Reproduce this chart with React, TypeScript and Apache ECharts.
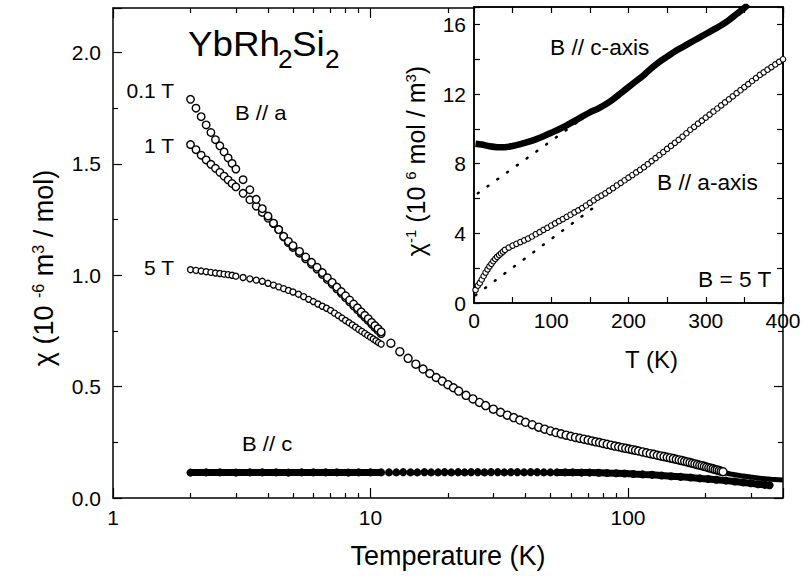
import React, { useEffect, useRef } from "react";
import * as echarts from "echarts";

const FONT = '"Liberation Sans", Arial, Helvetica, sans-serif';

// ---------- main plot: chi(T), B // a ----------
const tempLowA = [2.0, 2.1, 2.2, 2.3, 2.4, 2.5, 2.6, 2.7, 2.8, 2.9, 3.0, 3.2, 3.4, 3.6, 3.8, 4.0, 4.2, 4.4, 4.6, 4.8, 5.0, 5.3, 5.6, 5.9, 6.2, 6.5, 6.8, 7.1, 7.4, 7.7, 8.0, 8.3, 8.6, 8.9, 9.2, 9.5, 9.8, 10.1, 10.4, 10.7, 11.0];
const chi01T = [1.79, 1.75, 1.712, 1.675, 1.641, 1.609, 1.581, 1.554, 1.527, 1.502, 1.477, 1.429, 1.384, 1.341, 1.299, 1.266, 1.234, 1.205, 1.175, 1.152, 1.133, 1.107, 1.082, 1.058, 1.036, 1.012, 0.989, 0.968, 0.947, 0.927, 0.908, 0.889, 0.871, 0.854, 0.836, 0.82, 0.805, 0.789, 0.774, 0.76, 0.746];
const chi1T = [1.587, 1.564, 1.539, 1.518, 1.498, 1.48, 1.462, 1.445, 1.428, 1.412, 1.397, 1.368, 1.339, 1.31, 1.282, 1.256, 1.232, 1.205, 1.172, 1.146, 1.125, 1.099, 1.074, 1.05, 1.028, 1.004, 0.981, 0.96, 0.939, 0.919, 0.9, 0.881, 0.863, 0.846, 0.828, 0.812, 0.797, 0.781, 0.766, 0.752, 0.738];
const temp5T = [2.0, 2.1, 2.2, 2.3, 2.4, 2.5, 2.6, 2.7, 2.8, 2.9, 3.0, 3.2, 3.4, 3.6, 3.8, 4.0, 4.2, 4.4, 4.6, 4.8, 5.0, 5.25, 5.5, 5.75, 6.0, 6.25, 6.5, 6.75, 7.0, 7.25, 7.5, 7.75, 8.0, 8.25, 8.5, 8.75, 9.0, 9.25, 9.5, 9.75, 10.0, 10.25, 10.5, 10.75, 11.0];
const chi5T = [1.025, 1.022, 1.019, 1.016, 1.013, 1.01, 1.008, 1.005, 1.003, 1.0, 0.996, 0.99, 0.984, 0.978, 0.973, 0.964, 0.956, 0.948, 0.94, 0.932, 0.925, 0.915, 0.904, 0.892, 0.882, 0.871, 0.861, 0.852, 0.842, 0.83, 0.819, 0.808, 0.797, 0.787, 0.777, 0.767, 0.757, 0.748, 0.739, 0.73, 0.722, 0.714, 0.706, 0.698, 0.691];
const tempHigh = [12, 13, 14, 15, 16, 17, 18, 19, 20, 21, 22, 23.5, 25, 26.5, 28, 30, 32, 34, 36, 38, 40, 42.5, 45, 47.5, 50, 52.5, 55, 57.5, 60, 62.5, 65, 67.5, 70, 72.5, 75, 77.5, 80, 83, 86, 89, 92, 95, 98, 101, 104, 107, 110, 114, 118, 122, 126, 130, 134, 138, 142, 146, 150, 154, 158, 162, 166, 170, 174, 178, 182, 186, 190, 194, 198, 202, 206, 210, 214, 218, 222, 226, 230, 234];
const chiHigh = [0.695, 0.657, 0.627, 0.601, 0.579, 0.559, 0.541, 0.525, 0.509, 0.495, 0.48, 0.461, 0.445, 0.429, 0.415, 0.399, 0.385, 0.372, 0.361, 0.35, 0.34, 0.329, 0.318, 0.309, 0.301, 0.294, 0.288, 0.282, 0.277, 0.272, 0.268, 0.264, 0.26, 0.256, 0.252, 0.249, 0.245, 0.241, 0.237, 0.233, 0.23, 0.226, 0.223, 0.22, 0.217, 0.214, 0.211, 0.207, 0.203, 0.199, 0.196, 0.192, 0.189, 0.186, 0.183, 0.18, 0.177, 0.174, 0.171, 0.168, 0.165, 0.162, 0.159, 0.156, 0.153, 0.15, 0.147, 0.145, 0.142, 0.139, 0.136, 0.134, 0.131, 0.128, 0.126, 0.123, 0.12, 0.118];
const tempBandA = [130, 150, 175, 200, 225, 250, 275, 300, 330, 360, 400];
const chiBandA = [0.185, 0.168, 0.15, 0.134, 0.12, 0.108, 0.1, 0.094, 0.088, 0.084, 0.081];

// ---------- main plot: chi(T), B // c ----------
const tempCLow = [2.0, 2.3, 2.6, 3.0, 3.4, 3.8, 4.3, 4.8, 5.4, 6.0, 6.7, 7.4, 8.2, 9.0, 10.0, 11.0];
const chiCLow = [0.114, 0.115, 0.115, 0.114, 0.115, 0.115, 0.115, 0.114, 0.115, 0.115, 0.115, 0.115, 0.114, 0.115, 0.115, 0.115];
const tempCMid = [11.8, 12.6, 13.4, 14.3, 15.2, 16.2, 17.2, 18.3, 19.4, 20.6, 21.9, 23.2, 24.6, 26.1, 27.7, 29.4, 31.2, 33.1, 35.1, 37.2, 39.5, 41.9, 44.4, 47.1, 50.0];
const chiCMid = [0.115, 0.115, 0.116, 0.115, 0.115, 0.116, 0.115, 0.115, 0.116, 0.115, 0.116, 0.115, 0.116, 0.116, 0.115, 0.116, 0.116, 0.115, 0.116, 0.116, 0.115, 0.116, 0.116, 0.115, 0.115];
const tempCHigh = [53, 57, 61, 66, 71, 77, 83, 90, 97, 105, 114, 124, 135, 147, 160, 175, 190, 205, 220, 240, 260, 280, 300, 320, 340, 355];
const chiCHigh = [0.115, 0.115, 0.115, 0.114, 0.114, 0.113, 0.112, 0.111, 0.11, 0.108, 0.106, 0.104, 0.101, 0.098, 0.095, 0.092, 0.088, 0.085, 0.082, 0.078, 0.074, 0.07, 0.066, 0.062, 0.059, 0.057];

// ---------- inset: 1/chi(T), B = 5 T ----------
const insetTempC = [2, 10, 20, 30, 40, 50, 60, 70, 80, 90, 100, 110, 120, 130, 140, 150, 160, 170, 180, 190, 200, 210, 220, 230, 240, 250, 260, 270, 280, 290, 300, 310, 320, 330, 340, 350, 355];
const invChiC = [9.15, 9.1, 9.0, 8.95, 8.95, 9.02, 9.12, 9.25, 9.4, 9.58, 9.78, 9.98, 10.2, 10.45, 10.7, 10.95, 11.15, 11.4, 11.7, 12.05, 12.4, 12.75, 13.1, 13.5, 13.85, 14.15, 14.45, 14.7, 14.95, 15.2, 15.45, 15.7, 15.95, 16.25, 16.6, 16.95, 17.15];
const insetTempA = [2, 5, 7.5, 10, 12.5, 15, 17.5, 20, 22.5, 25, 27.5, 30, 32.5, 35, 37.5, 40, 45, 50, 55, 60, 65, 70, 75, 80, 85, 90, 95, 100, 105, 110, 115, 120, 125, 130, 135, 140, 145, 150, 155, 160, 165, 170, 175, 180, 185, 190, 195, 200, 205, 210, 215, 220, 225, 230, 235, 240, 245, 250, 255, 260, 265, 270, 275, 280, 285, 290, 295, 300, 305, 310, 315, 320, 325, 330, 335, 340, 345, 350, 355, 360, 365, 370, 375, 380, 385, 390, 395, 400];
const invChiA = [0.75, 1.0, 1.15, 1.35, 1.55, 1.75, 1.93, 2.1, 2.25, 2.4, 2.53, 2.65, 2.75, 2.85, 2.95, 3.05, 3.18, 3.3, 3.4, 3.5, 3.6, 3.7, 3.82, 3.95, 4.07, 4.2, 4.32, 4.45, 4.57, 4.7, 4.82, 4.95, 5.07, 5.2, 5.32, 5.45, 5.6, 5.75, 5.9, 6.05, 6.17, 6.3, 6.45, 6.6, 6.75, 6.9, 7.05, 7.2, 7.35, 7.5, 7.65, 7.8, 7.97, 8.15, 8.32, 8.5, 8.67, 8.85, 9.02, 9.2, 9.37, 9.55, 9.75, 9.95, 10.12, 10.3, 10.47, 10.65, 10.82, 11.0, 11.17, 11.35, 11.52, 11.7, 11.87, 12.05, 12.22, 12.4, 12.57, 12.75, 12.92, 13.1, 13.25, 13.4, 13.55, 13.7, 13.85, 14.0];
const fitTempC = [5, 150];
const fitC = [6.3, 10.9];
const fitTempA = [2, 163];
const fitA = [0.45, 5.75];

const pairs = (xs: number[], ys: number[]) => xs.map((x, i) => [x, ys[i]]);

const BLACK = "#000";
const ls = { color: BLACK, width: 1.5 };
const tickLs = { color: BLACK, width: 1.2 };

const openCircle = (size: number, bw = 1.4) => ({
  symbol: "circle",
  symbolSize: size,
  itemStyle: { color: "#fff", borderColor: BLACK, borderWidth: bw, opacity: 1 },
});

const txt = (text: string, x: number, y: number, size: number, align = "left", sx = 1) => ({
  type: "text",
  x,
  y,
  scaleX: sx,
  z: 100,
  silent: true,
  style: {
    text,
    fill: BLACK,
    font: `${size}px ${FONT}`,
    align,
    verticalAlign: "middle",
    textAlign: align,
    textVerticalAlign: "middle",
  },
});

export default function App() {
  const ref = useRef<HTMLDivElement>(null);

  useEffect(() => {
    if (!ref.current) return;
    const chart = echarts.init(ref.current, undefined, { renderer: "svg" });

    const mainLogAxis = (position: "bottom" | "top", labels: boolean) => ({
      gridIndex: 0,
      type: "log",
      logBase: 10,
      min: 1,
      max: 400,
      position,
      axisLine: { show: true, onZero: false, lineStyle: ls },
      axisTick: { show: true, inside: true, length: 10, lineStyle: tickLs },
      minorTick: { show: true, splitNumber: 9, length: 5, lineStyle: tickLs },
      axisLabel: { show: labels, margin: 9, fontSize: 21, color: BLACK, fontFamily: FONT, showMaxLabel: false },
      splitLine: { show: false },
      minorSplitLine: { show: false },
    });

    const mainYAxis = (position: "left" | "right", labels: boolean) => ({
      gridIndex: 0,
      type: "value",
      min: 0,
      max: 2.2,
      interval: 0.5,
      position,
      axisLine: { show: true, onZero: false, lineStyle: ls },
      axisTick: { show: true, inside: true, length: 9, lineStyle: tickLs },
      minorTick: { show: true, splitNumber: 2, length: 5, lineStyle: tickLs },
      axisLabel: {
        show: labels,
        margin: 12,
        fontSize: 21,
        color: BLACK,
        fontFamily: FONT,
        showMaxLabel: false,
        formatter: (v: number) => v.toFixed(1),
      },
      splitLine: { show: false },
    });

    const insetXAxis = (position: "bottom" | "top", labels: boolean) => ({
      gridIndex: 1,
      type: "value",
      min: 0,
      max: 400,
      interval: 100,
      position,
      z: 6,
      axisLine: { show: true, onZero: false, lineStyle: ls },
      axisTick: { show: true, inside: true, length: 6, lineStyle: tickLs },
      minorTick: { show: true, splitNumber: 2, length: 6, lineStyle: tickLs },
      axisLabel: { show: labels, margin: 7, fontSize: 21, color: BLACK, fontFamily: FONT },
      splitLine: { show: false },
    });

    const insetYAxis = (position: "left" | "right", labels: boolean) => ({
      gridIndex: 1,
      type: "value",
      min: 0,
      max: 17,
      interval: 4,
      position,
      z: 6,
      axisLine: { show: true, onZero: false, lineStyle: ls },
      axisTick: { show: true, inside: true, length: 6, lineStyle: tickLs },
      minorTick: { show: true, splitNumber: 2, length: 6, lineStyle: tickLs },
      axisLabel: { show: labels, margin: 8, fontSize: 21, color: BLACK, fontFamily: FONT, showMaxLabel: false },
      splitLine: { show: false },
    });

    const xMain = {
      ...mainLogAxis("bottom", true),
      name: "Temperature (K)",
      nameLocation: "middle",
      nameGap: 44,
      nameTextStyle: { fontSize: 27, color: BLACK, fontFamily: FONT },
    };
    const yMain = {
      ...mainYAxis("left", true),
      name: "{a|χ (10 }{s|-6}{a| m}{s|3}{a| / mol)}",
      nameLocation: "middle",
      nameGap: 56,
      nameTextStyle: {
        padding: [0, 30, 0, 0],
        rich: {
          a: { fontSize: 27, fontFamily: FONT, color: BLACK },
          s: { fontSize: 16, fontFamily: FONT, color: BLACK, verticalAlign: "top" },
        },
      },
    };
    const xInset = {
      ...insetXAxis("bottom", true),
      name: "T (K)",
      nameLocation: "middle",
      nameGap: 44,
      nameTextStyle: { fontSize: 24, color: BLACK, fontFamily: FONT, padding: [0, 0, 0, 46] },
    };
    const yInset = {
      ...insetYAxis("left", true),
      name: "{a|χ}{s|-1}{a| (10 }{s|6}{a| mol / m}{s|3}{a|)}",
      nameLocation: "middle",
      nameGap: 46,
      nameTextStyle: {
        padding: [0, 12, 0, 0],
        rich: {
          a: { fontSize: 25, fontFamily: FONT, color: BLACK },
          s: { fontSize: 15, fontFamily: FONT, color: BLACK, verticalAlign: "top" },
        },
      },
    };

    const option = {
      animation: false,
      backgroundColor: "#fff",
      textStyle: { fontFamily: FONT, color: BLACK },
      grid: [
        { left: 113, top: 8, right: 25, bottom: 78, containLabel: false },
        {
          left: 474,
          top: 7,
          width: 309,
          height: 296,
          show: true,
          backgroundColor: "#fff",
          borderColor: BLACK,
          borderWidth: 1.5,
          z: 5,
        },
      ],
      xAxis: [xMain, mainLogAxis("top", false), xInset, insetXAxis("top", false)],
      yAxis: [yMain, mainYAxis("right", false), yInset, insetYAxis("right", false)],
      series: [
        // main plot
        {
          name: "B // a, high-T band",
          type: "line",
          xAxisIndex: 0,
          yAxisIndex: 0,
          data: pairs(tempBandA, chiBandA),
          symbol: "none",
          lineStyle: { color: BLACK, width: 5 },
          z: 1,
        },
        {
          name: "B // c (2-11 K)",
          type: "line",
          xAxisIndex: 0,
          yAxisIndex: 0,
          data: pairs(tempCLow, chiCLow),
          symbol: "circle",
          symbolSize: 8,
          itemStyle: { color: BLACK, opacity: 1 },
          lineStyle: { color: BLACK, width: 7 },
          z: 2,
        },
        {
          name: "B // c (11-50 K)",
          type: "scatter",
          xAxisIndex: 0,
          yAxisIndex: 0,
          data: pairs(tempCMid, chiCMid),
          symbol: "circle",
          symbolSize: 8,
          itemStyle: { color: BLACK, opacity: 1 },
          z: 2,
        },
        {
          name: "B // c (50-355 K)",
          type: "line",
          xAxisIndex: 0,
          yAxisIndex: 0,
          data: pairs(tempCHigh, chiCHigh),
          symbol: "circle",
          symbolSize: 8,
          itemStyle: { color: BLACK, opacity: 1 },
          lineStyle: { color: BLACK, width: 7 },
          z: 2,
        },
        {
          name: "5 T",
          type: "scatter",
          xAxisIndex: 0,
          yAxisIndex: 0,
          data: pairs(temp5T, chi5T),
          ...openCircle(6, 1.3),
          z: 3,
        },
        {
          name: "1 T",
          type: "scatter",
          xAxisIndex: 0,
          yAxisIndex: 0,
          data: pairs(tempLowA, chi1T),
          ...openCircle(7.5),
          z: 3,
        },
        {
          name: "0.1 T",
          type: "scatter",
          xAxisIndex: 0,
          yAxisIndex: 0,
          data: pairs(tempLowA, chi01T),
          ...openCircle(7.5),
          z: 3,
        },
        {
          name: "B // a (high T)",
          type: "scatter",
          xAxisIndex: 0,
          yAxisIndex: 0,
          data: pairs(tempHigh, chiHigh),
          ...openCircle(8),
          z: 3,
        },
        // inset
        {
          name: "fit c",
          type: "line",
          xAxisIndex: 2,
          yAxisIndex: 2,
          data: pairs(fitTempC, fitC),
          symbol: "none",
          lineStyle: { color: BLACK, width: 2.5, type: [1, 11], cap: "round" },
          z: 7,
        },
        {
          name: "fit a",
          type: "line",
          xAxisIndex: 2,
          yAxisIndex: 2,
          data: pairs(fitTempA, fitA),
          symbol: "none",
          lineStyle: { color: BLACK, width: 2.5, type: [1, 11], cap: "round" },
          z: 7,
        },
        {
          name: "B // c-axis",
          type: "line",
          xAxisIndex: 2,
          yAxisIndex: 2,
          data: pairs(insetTempC, invChiC),
          symbol: "none",
          smooth: 0.3,
          clip: true,
          lineStyle: { color: BLACK, width: 6.5 },
          z: 7,
        },
        {
          name: "B // a-axis",
          type: "scatter",
          xAxisIndex: 2,
          yAxisIndex: 2,
          data: pairs(insetTempA, invChiA),
          symbol: "circle",
          symbolSize: 5.5,
          itemStyle: { color: "#fff", borderColor: BLACK, borderWidth: 1.1, opacity: 1 },
          z: 8,
        },
      ],
      graphic: {
        elements: [
          txt("YbRh", 188, 44, 35, "left", 1.05),
          txt("2", 278, 59, 25, "left", 1.05),
          txt("Si", 292, 44, 35, "left", 1.05),
          txt("2", 325, 59, 25, "left", 1.05),
          txt("0.1 T", 174, 90, 21, "right"),
          txt("1 T", 174, 145, 21, "right"),
          txt("5 T", 174, 267, 21, "right"),
          txt("B // a", 235, 113, 21, "left", 1.05),
          txt("B // c", 242, 444, 21, "left", 1.05),
          txt("B // c-axis", 550, 48, 22, "left", 1.03),
          txt("B // a-axis", 657, 183, 22, "left", 1.03),
          txt("B = 5 T", 698, 280, 22, "left", 1.03),
        ],
      },
    };

    chart.setOption(option as any);
    return () => chart.dispose();
  }, []);

  return (
    <div
      ref={ref}
      style={{ position: "absolute", left: 0, top: 0, width: 808, height: 576, background: "#fff" }}
    />
  );
}
